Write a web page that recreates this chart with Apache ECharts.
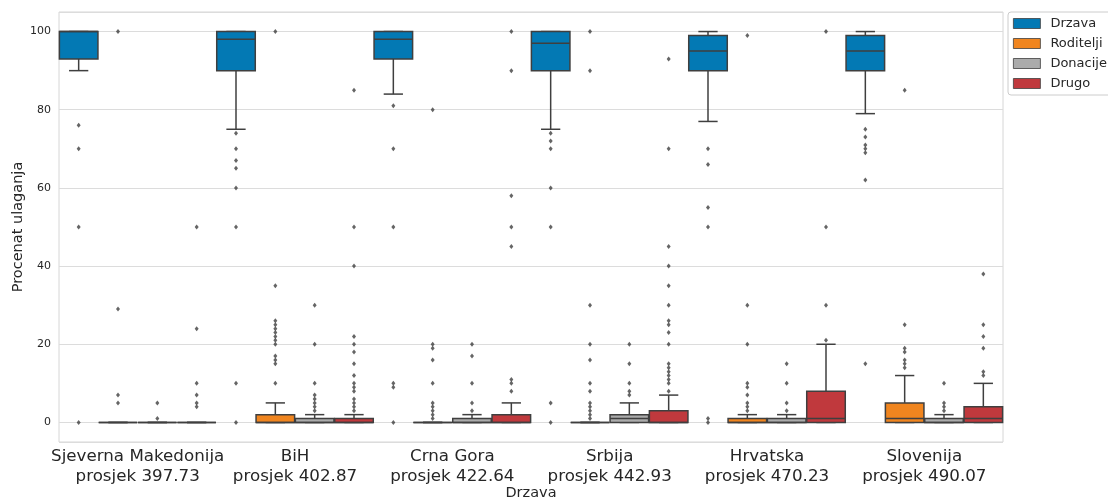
<!DOCTYPE html>
<html>
<head>
<meta charset="utf-8">
<script src="https://cdn.jsdelivr.net/npm/echarts@6/dist/echarts.min.js"></script>
<style>
html,body{margin:0;padding:0;background:#fff;}
#chart{width:1108px;height:501px;}
</style>
</head>
<body>
<div id="chart"></div>
<script>
// ---- data ----
const groups = [
  'Sjeverna Makedonija\nprosjek 397.73',
  'BiH\nprosjek 402.87',
  'Crna Gora\nprosjek 422.64',
  'Srbija\nprosjek 442.93',
  'Hrvatska\nprosjek 470.23',
  'Slovenija\nprosjek 490.07'
];
const hues = ['Drzava', 'Roditelji', 'Donacije', 'Drugo'];
const hueColors = ['#0379b4', '#f0851f', '#ababab', '#c0393d'];

// [min, Q1, median, Q3, max] per country
const drzavaBox    = [[90,93,100,100,100],[75,90,98,100,100],[84,93,98,100,100],[75,90,97,100,100],[77,90,95,99,100],[79,90,95,99,100]];
const roditeljiBox = [[0,0,0,0,0],[0,0,0,2,5],[0,0,0,0,0],[0,0,0,0,0],[0,0,0,1,2],[0,0,1,5,12]];
const donacijeBox  = [[0,0,0,0,0],[0,0,0,1,2],[0,0,0,1,2],[0,0,1,2,5],[0,0,0,1,2],[0,0,0,1,2]];
const drugoBox     = [[0,0,0,0,0],[0,0,0,1,2],[0,0,0,2,5],[0,0,0,3,7],[0,0,1,8,20],[0,0,1,4,10]];

// outliers per country
const drzavaOut = [
  [76,70,50,0],
  [74,70,67,65,60,50,10,0],
  [81,70,50,10,9,0],
  [74,72,70,60,50,5,0],
  [70,66,55,50,1,0],
  [75,73,71,70,69,62,15]
];
const roditeljiOut = [
  [100,29,7,5],
  [100,35,26,25,24,23,22,21,20,17,16,15,10],
  [80,20,19,16,10,5,4,3,2,1],
  [100,90,30,20,16,10,8,5,4,3,2,1],
  [99,30,20,10,9,7,5,4,3],
  [85,25,19,18,16,15,14]
];
const donacijeOut = [
  [5,1],
  [30,20,10,7,6,5,4,3],
  [20,17,10,5,3],
  [20,15,10,8,7],
  [15,10,5,3],
  [10,5,4,3]
];
const drugoOut = [
  [50,24,10,7,5,4],
  [85,50,40,22,20,18,15,12,10,9,8,6,5,4,3],
  [100,90,58,50,45,11,10,8],
  [93,70,45,40,35,30,26,25,23,20,15,14,13,12,11,10,8],
  [100,50,30,21],
  [38,25,22,19,13,12]
];
const yTicks = [0, 20, 40, 60, 80, 100];

// ---- build ----
const boxSets = [drzavaBox, roditeljiBox, donacijeBox, drugoBox];
const outSets = [drzavaOut, roditeljiOut, donacijeOut, drugoOut];
const slots = [];
for (let g = 0; g < groups.length; g++) for (let h = 0; h < hues.length; h++) slots.push(g + '_' + h);

const EDGE = '#3f3f3f';
const LW = 1.5;

function makeRender(color) {
  return function (params, api) {
    const x = api.value(0);
    const yMin = api.coord([x, api.value(1)])[1];
    const yQ1 = api.coord([x, api.value(2)])[1];
    const yMed = api.coord([x, api.value(3)])[1];
    const yQ3 = api.coord([x, api.value(4)])[1];
    const yMax = api.coord([x, api.value(5)])[1];
    const cx = api.coord([x, 0])[0];
    const bw = api.size([1, 0])[0] * 0.98;
    const ls = {stroke: EDGE, lineWidth: LW};
    return {
      type: 'group',
      children: [
        {type: 'line', shape: {x1: cx, y1: yQ1, x2: cx, y2: yMin}, style: ls},
        {type: 'line', shape: {x1: cx, y1: yQ3, x2: cx, y2: yMax}, style: ls},
        {type: 'line', shape: {x1: cx - bw / 4, y1: yMin, x2: cx + bw / 4, y2: yMin}, style: ls},
        {type: 'line', shape: {x1: cx - bw / 4, y1: yMax, x2: cx + bw / 4, y2: yMax}, style: ls},
        {type: 'rect', shape: {x: cx - bw / 2, y: yQ3, width: bw, height: yQ1 - yQ3},
          style: {fill: color, stroke: EDGE, lineWidth: LW}},
        {type: 'line', shape: {x1: cx - bw / 2, y1: yMed, x2: cx + bw / 2, y2: yMed}, style: ls}
      ]
    };
  };
}

const series = [];
hues.forEach(function (name, h) {
  const data = boxSets[h].map(function (b, g) { return [g * 4 + h].concat(b); });
  series.push({
    name: name,
    type: 'custom',
    xAxisIndex: 0,
    yAxisIndex: 0,
    itemStyle: {color: hueColors[h]},
    renderItem: makeRender(hueColors[h]),
    encode: {x: 0, y: [1, 2, 3, 4, 5]},
    data: data,
    z: 2,
    silent: true
  });
});
const outData = [];
outSets.forEach(function (set, h) {
  set.forEach(function (vals, g) {
    vals.forEach(function (v) { outData.push([g * 4 + h, v]); });
  });
});
series.push({
  name: 'outliers',
  type: 'scatter',
  xAxisIndex: 0,
  yAxisIndex: 0,
  symbol: 'diamond',
  symbolSize: [4, 5],
  itemStyle: {color: EDGE},
  data: outData,
  z: 3,
  silent: true
});

const FONT = 'DejaVu Sans';
const TXT = '#262626';
const chart = echarts.init(document.getElementById('chart'));
chart.setOption({
  animation: false,
  backgroundColor: '#ffffff',
  textStyle: {fontFamily: FONT},
  grid: {left: 59, right: 105, top: 12, bottom: 59, outerBoundsMode: 'none', containLabel: false,
    show: true, borderColor: '#d6d6d6', borderWidth: 1, backgroundColor: 'transparent'},
  legend: {
    orient: 'vertical',
    left: 1008,
    top: 12,
    padding: [5, 6, 5, 5],
    itemWidth: 27,
    itemHeight: 10,
    itemGap: 7,
    icon: 'rect',
    borderColor: '#cccccc',
    borderWidth: 1,
    borderRadius: 3,
    backgroundColor: '#ffffff',
    textStyle: {fontFamily: FONT, fontSize: 13, color: TXT, lineHeight: 13, padding: [0, 0, 0, 5]},
    data: hues.map(function (n, i) {
      return {name: n, itemStyle: {color: hueColors[i], borderColor: EDGE, borderWidth: 0.8}};
    })
  },
  xAxis: [
    {
      type: 'category',
      data: slots,
      show: false,
      position: 'top',
      boundaryGap: true
    },
    {
      type: 'category',
      data: groups,
      position: 'bottom',
      boundaryGap: true,
      axisLine: {show: false},
      axisTick: {show: false},
      splitLine: {show: false},
      axisLabel: {fontFamily: FONT, fontSize: 16.7, lineHeight: 20, color: TXT, margin: 5, interval: 0},
      name: 'Drzava',
      nameLocation: 'middle',
      nameGap: 44,
      nameMoveOverlap: false,
      nameTextStyle: {fontFamily: FONT, fontSize: 14.5, color: TXT}
    }
  ],
  yAxis: {
    type: 'value',
    min: -5,
    max: 105,
    splitNumber: 5,
    axisLine: {show: false},
    axisTick: {show: false},
    splitLine: {lineStyle: {color: '#dcdcdc', width: 1}},
    axisLabel: {
      fontFamily: FONT, fontSize: 11, color: TXT, margin: 8,
      showMinLabel: false, showMaxLabel: false,
      formatter: function (v) { return yTicks.indexOf(v) >= 0 ? String(v) : ''; }
    },
    name: 'Procenat ulaganja',
    nameLocation: 'middle',
    nameGap: 33,
    nameMoveOverlap: false,
    nameTextStyle: {fontFamily: FONT, fontSize: 14.5, color: TXT}
  },
  series: series
});
</script>
</body>
</html>
